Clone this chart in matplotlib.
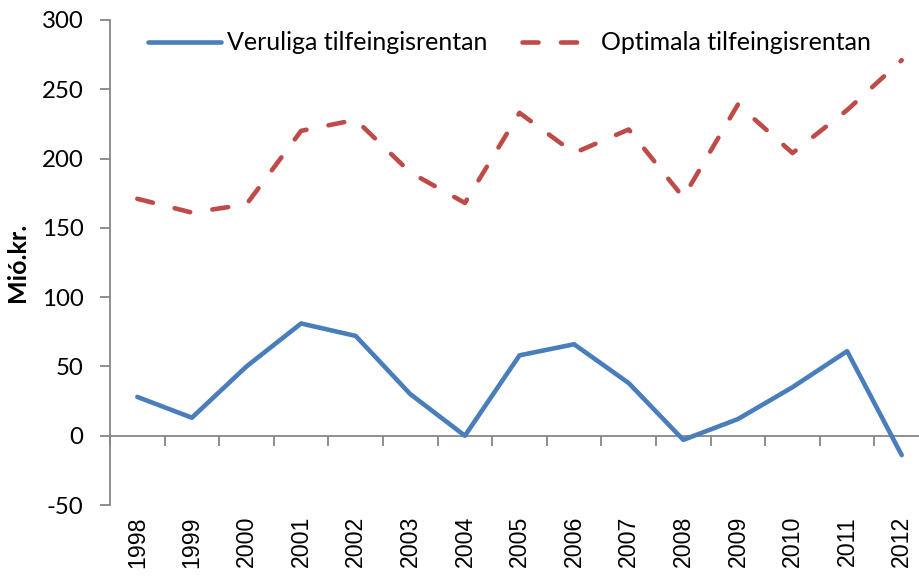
import matplotlib
matplotlib.use('Agg')
import matplotlib.pyplot as plt
from matplotlib.ticker import FixedLocator, NullFormatter

years = [str(y) for y in range(1998, 2013)]
veruliga = [28, 13, 50, 81, 72, 30, 0, 58, 66, 38, -3, 12, 35, 61, -14]
optimala = [171, 161, 167, 220, 228, 190, 168, 233, 204, 221, 172, 239, 204, 235, 271]
yticks = [-50, 0, 50, 100, 150, 200, 250, 300]

blue = '#4A7EBB'
red = '#BE4B48'
grey = '#868686'

fig = plt.figure(figsize=(9.2, 5.77), dpi=100)
ax = fig.add_axes([110 / 920, 1 - 505 / 577, 819 / 920, 485 / 577])

x = list(range(len(years)))
ax.plot(x, veruliga, color=blue, lw=3.3, solid_capstyle='round',
        label='Veruliga tilfeingisrentan')
ax.plot(x, optimala, color=red, lw=3.3, dashes=(3.5, 4.9), dash_capstyle='round',
        label='Optimala tilfeingisrentan')

ax.set_xlim(-0.5, len(years) - 0.5)
ax.set_ylim(-50, 300)
ax.set_yticks(yticks)
ax.set_yticklabels([str(v) for v in yticks], family='Lato', fontsize=17.3)
ax.tick_params(axis='y', direction='out', length=7, width=1.3, color=grey, pad=12)

for s in ['top', 'right', 'bottom']:
    ax.spines[s].set_visible(False)
ax.spines['left'].set_color(grey)
ax.spines['left'].set_linewidth(1.3)

# year labels below the plot
ax.set_xticks(x)
ax.set_xticklabels(years, rotation=90, family='Liberation Sans', fontsize=16.7)
ax.tick_params(axis='x', length=0, pad=8)

# zero line with category boundary ticks
zero = ax.secondary_xaxis(50 / 350)
zero.spines['bottom'].set_color(grey)
zero.spines['bottom'].set_linewidth(1.3)
zero.xaxis.set_major_locator(FixedLocator([i - 0.5 for i in range(len(years) + 1)]))
zero.xaxis.set_major_formatter(NullFormatter())
zero.tick_params(axis='x', direction='out', length=7, width=1.3, color=grey)

ax.set_ylabel('Mió.kr.', family='Lato', fontsize=18, fontweight='bold', labelpad=9)

leg = ax.legend(loc='center left', bbox_to_anchor=(38 / 819, 462 / 485), ncol=2,
                frameon=False, prop={'family': 'Lato', 'size': 18},
                handlelength=2.9, handletextpad=0.25, columnspacing=1.4,
                borderpad=0, borderaxespad=0)

fig.savefig('out.png', dpi=100)
